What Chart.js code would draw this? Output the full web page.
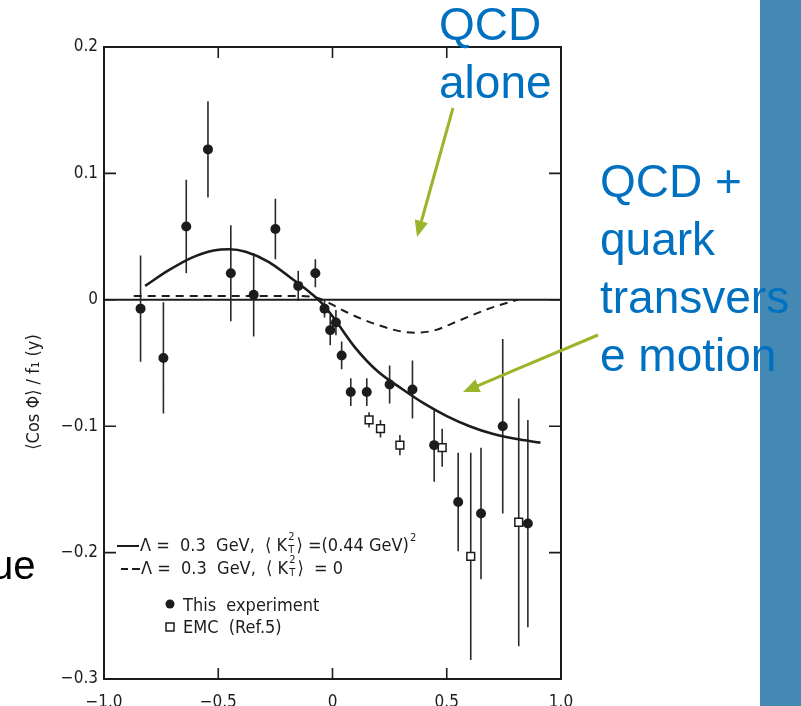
<!DOCTYPE html>
<html>
<head>
<meta charset="utf-8">
<script src="https://cdn.jsdelivr.net/npm/chart.js@4/dist/chart.umd.min.js"></script>
<style>
  html, body { margin: 0; padding: 0; background: #fff; }
  #wrap { position: relative; width: 801px; height: 706px; overflow: hidden; background: #fff; }
  #panel { position: absolute; left: 760px; top: 0; width: 41px; height: 706px; background: #4389b4; }
  #plot { position: absolute; left: 0; top: 0; }
  .note { position: absolute; font-family: "Liberation Sans", Arial, sans-serif; font-size: 46px; line-height: 58px; color: #0070c0; white-space: nowrap; }
  #side { position: absolute; left: -9px; top: 545px; font-family: "Liberation Sans", Arial, sans-serif; font-size: 40px; line-height: 40px; color: #000; }
  #arrows { position: absolute; left: 0; top: 0; }
</style>
</head>
<body>
<div id="wrap">
  <div id="panel"></div>
  <canvas id="plot" width="801" height="706"></canvas>
  <div id="side">ue</div>
  <div class="note" style="left:439px; top:-5px;">QCD<br>alone</div>
  <div class="note" style="left:600px; top:152px;">QCD +<br>quark<br>transvers<br>e motion</div>
  <svg id="arrows" width="801" height="706">
    <defs>
      <marker id="head" markerWidth="5.5" markerHeight="4.6" refX="0.3" refY="2.3" orient="auto" markerUnits="strokeWidth">
        <path d="M0,0 L5.5,2.3 L0,4.6 z" fill="#9bb52a"/>
      </marker>
    </defs>
    <line x1="453" y1="108" x2="421.2" y2="222" stroke="#9bb52a" stroke-width="3" marker-end="url(#head)"/>
    <line x1="598" y1="335" x2="477.4" y2="385.9" stroke="#9bb52a" stroke-width="3" marker-end="url(#head)"/>
  </svg>
</div>
<script>
// this experiment (filled circles): y, <cos phi>/f1(y), error
const expX = [-0.84, -0.74, -0.64, -0.545, -0.445, -0.345, -0.25, -0.15, -0.075, -0.035, -0.01, 0.015, 0.04, 0.08, 0.15, 0.25, 0.35, 0.445, 0.55, 0.65, 0.745, 0.855];
const expY = [-0.007, -0.046, 0.058, 0.119, 0.021, 0.004, 0.056, 0.011, 0.021, -0.007, -0.024, -0.018, -0.044, -0.073, -0.073, -0.067, -0.071, -0.115, -0.160, -0.169, -0.100, -0.177];
const expErr = [0.042, 0.044, 0.037, 0.038, 0.038, 0.033, 0.024, 0.012, 0.011, 0.007, 0.012, 0.010, 0.011, 0.011, 0.011, 0.015, 0.023, 0.029, 0.039, 0.052, 0.069, 0.082];

// EMC (Ref.5), open squares
const emcX = [0.16, 0.21, 0.295, 0.48, 0.605, 0.815];
const emcY = [-0.095, -0.102, -0.115, -0.117, -0.203, -0.176];
const emcErr = [0.006, 0.007, 0.008, 0.015, 0.082, 0.098];

// QCD, Lambda = 0.3 GeV, <kT^2> = (0.44 GeV)^2  (solid)
const fullX = [-0.82, -0.72, -0.62, -0.52, -0.45, -0.38, -0.28, -0.18, -0.10, -0.05, 0.0, 0.1, 0.2, 0.3, 0.4, 0.5, 0.6, 0.7, 0.8, 0.91];
const fullY = [0.011, 0.023, 0.033, 0.039, 0.040, 0.038, 0.030, 0.017, 0.006, -0.002, -0.013, -0.038, -0.057, -0.070, -0.082, -0.092, -0.100, -0.106, -0.110, -0.113];

// QCD alone, <kT^2> = 0  (dashed)
const qcdX = [-0.87, -0.6, -0.3, -0.15, -0.08, -0.03, 0.02, 0.1, 0.2, 0.3, 0.37, 0.45, 0.52, 0.6, 0.7, 0.81];
const qcdY = [0.003, 0.003, 0.003, 0.003, 0.002, -0.001, -0.006, -0.013, -0.020, -0.025, -0.026, -0.024, -0.019, -0.013, -0.006, 0.0];

const xTicks = [-1.0, -0.5, 0, 0.5, 1.0];
const xTickLabels = ['\u22121.0', '\u22120.5', '0', '0.5', '1.0'];
const yTicks = [0.2, 0.1, 0, -0.1, -0.2, -0.3];
const yTickLabels = ['0.2', '0.1', '0', '\u22120.1', '\u22120.2', '\u22120.3'];

const ink = '#1c1c1c';
const scanFont = '"DejaVu Sans Condensed", "DejaVu Sans", sans-serif';

const pts = (xs, ys) => xs.map((x, i) => ({x: x, y: ys[i]}));

// frame, inward ticks, zero line and error bars under the markers
const frame = {
  id: 'frame',
  beforeDatasetsDraw(chart) {
    const {ctx, chartArea: a, scales: {x, y}} = chart;
    ctx.save();
    ctx.strokeStyle = ink;
    ctx.lineWidth = 2;
    ctx.strokeRect(a.left, a.top, a.right - a.left, a.bottom - a.top);

    const y0 = y.getPixelForValue(0);
    ctx.beginPath();
    ctx.moveTo(a.left, y0);
    ctx.lineTo(a.right, y0);
    ctx.stroke();

    ctx.lineWidth = 1.6;
    ctx.beginPath();
    yTicks.slice(1, -1).forEach(v => {
      const p = y.getPixelForValue(v);
      ctx.moveTo(a.left, p); ctx.lineTo(a.left + 12, p);
      ctx.moveTo(a.right, p); ctx.lineTo(a.right - 12, p);
    });
    xTicks.slice(1, -1).forEach(v => {
      const p = x.getPixelForValue(v);
      ctx.moveTo(p, a.top); ctx.lineTo(p, a.top + 11);
      ctx.moveTo(p, a.bottom); ctx.lineTo(p, a.bottom - 11);
    });
    ctx.stroke();

    ctx.strokeStyle = '#2a2a2a';
    ctx.lineWidth = 1.6;
    ctx.beginPath();
    const bars = (xs, ys, es) => xs.forEach((xv, i) => {
      const px = x.getPixelForValue(xv);
      ctx.moveTo(px, y.getPixelForValue(ys[i] + es[i]));
      ctx.lineTo(px, y.getPixelForValue(ys[i] - es[i]));
    });
    bars(expX, expY, expErr);
    bars(emcX, emcY, emcErr);
    ctx.stroke();
    ctx.restore();
  },
  afterDraw(chart) {
    const {ctx} = chart;
    ctx.save();
    ctx.fillStyle = ink;
    ctx.strokeStyle = ink;

    // y axis title
    ctx.save();
    ctx.translate(39, 392);
    ctx.rotate(-Math.PI / 2);
    ctx.font = '18px ' + scanFont;
    ctx.textAlign = 'center';
    ctx.textBaseline = 'alphabetic';
    ctx.fillText('\u27E8Cos \u03A6\u27E9 / f\u2081 (y)', 0, 0);
    ctx.restore();

    // legend: text runs with sub/superscripts
    const big = '18px ' + scanFont;
    const small = '11px ' + scanFont;
    const run = (x0, base, parts) => {
      let cx = x0;
      parts.forEach(p => {
        if (p.stack) {
          ctx.font = small;
          cx += 1;
          ctx.fillText(p.stack[0], cx, base - 11);
          ctx.fillText(p.stack[1], cx, base + 2);
          cx += Math.max(ctx.measureText(p.stack[0]).width, ctx.measureText(p.stack[1]).width) + 2;
        } else if (p.sup) {
          ctx.font = small;
          ctx.fillText(p.sup, cx + 1, base - 10);
          cx += ctx.measureText(p.sup).width + 1;
        } else {
          ctx.font = big;
          ctx.fillText(p.t, cx, base);
          cx += ctx.measureText(p.t).width;
        }
      });
    };
    ctx.textBaseline = 'alphabetic';
    ctx.textAlign = 'left';

    ctx.lineWidth = 2;
    ctx.beginPath();
    ctx.moveTo(117, 546); ctx.lineTo(139, 546);
    ctx.stroke();
    run(140, 551, [{t: '\u039B =  0.3  GeV,  \u27E8 K'}, {stack: ['2', 'T']}, {t: '\u27E9 =(0.44 GeV)'}, {sup: '2'}]);

    ctx.beginPath();
    ctx.moveTo(121, 569); ctx.lineTo(128, 569);
    ctx.moveTo(132, 569); ctx.lineTo(140, 569);
    ctx.stroke();
    run(141, 574, [{t: '\u039B =  0.3  GeV,  \u27E8 K'}, {stack: ['2', 'T']}, {t: '\u27E9  = 0'}]);

    ctx.beginPath();
    ctx.arc(170, 604, 4.5, 0, Math.PI * 2);
    ctx.fill();
    run(183, 611, [{t: 'This  experiment'}]);

    ctx.lineWidth = 1.5;
    ctx.strokeRect(166, 623, 8, 8);
    run(183, 633, [{t: 'EMC  (Ref.5)'}]);
    ctx.restore();
  }
};

new Chart(document.getElementById('plot'), {
  type: 'scatter',
  data: {
    datasets: [
      {
        label: 'This experiment',
        data: pts(expX, expY),
        pointStyle: 'circle',
        pointRadius: 5,
        backgroundColor: ink,
        borderColor: ink,
        borderWidth: 0,
        order: 0
      },
      {
        label: 'EMC (Ref.5)',
        data: pts(emcX, emcY),
        pointStyle: 'rect',
        pointRadius: 5.5,
        backgroundColor: '#ffffff',
        borderColor: ink,
        borderWidth: 1.5,
        order: 1
      },
      {
        label: 'kT = 0.44 GeV',
        data: pts(fullX, fullY),
        showLine: true,
        pointRadius: 0,
        borderColor: ink,
        borderWidth: 2.6,
        cubicInterpolationMode: 'monotone',
        order: 2
      },
      {
        label: 'kT = 0',
        data: pts(qcdX, qcdY),
        showLine: true,
        pointRadius: 0,
        borderColor: ink,
        borderWidth: 2,
        borderDash: [8, 6],
        cubicInterpolationMode: 'monotone',
        order: 3
      }
    ]
  },
  options: {
    responsive: false,
    animation: false,
    events: [],
    layout: { padding: { top: 47, right: 240, bottom: 0, left: 0 } },
    plugins: {
      legend: { display: false },
      tooltip: { enabled: false }
    },
    scales: {
      x: {
        type: 'linear',
        min: -1.0,
        max: 1.0,
        afterBuildTicks: s => { s.ticks = xTicks.map(v => ({value: v})); },
        afterFit: s => { s.height = 27; },
        grid: { display: false, drawTicks: false },
        border: { display: false },
        ticks: {
          padding: 13,
          maxRotation: 0,
          color: ink,
          font: { family: scanFont, size: 17 },
          callback: (v, i) => xTickLabels[i]
        }
      },
      y: {
        type: 'linear',
        min: -0.3,
        max: 0.2,
        afterBuildTicks: s => { s.ticks = yTicks.map(v => ({value: v})); },
        afterFit: s => { s.width = 104; },
        grid: { display: false, drawTicks: false },
        border: { display: false },
        ticks: {
          padding: 6,
          color: ink,
          font: { family: scanFont, size: 17 },
          callback: (v, i) => yTickLabels[i]
        }
      }
    }
  },
  plugins: [frame]
});
</script>
</body>
</html>
